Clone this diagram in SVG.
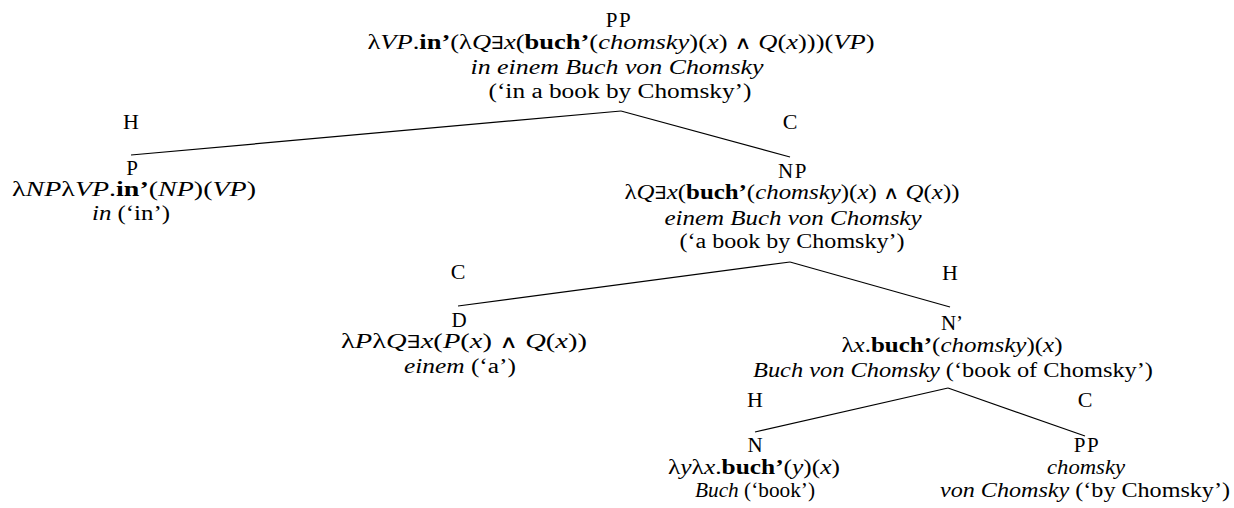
<svg xmlns="http://www.w3.org/2000/svg" width="1234" height="508" viewBox="0 0 1234 508">
<style>
.t{font-family:"Liberation Serif","DejaVu Serif",serif;font-size:20px;fill:#000;text-anchor:middle}
.i{font-style:italic}
.b{font-weight:bold}
.m{font-family:"DejaVu Serif",serif;font-size:18px;font-weight:normal;font-style:normal}
.lab{font-size:22px}
.c{font-size:21px}
.cat{letter-spacing:1.5px}
.e{stroke:#000;stroke-width:1.2;fill:none}
</style>
<rect width="1234" height="508" fill="#fff"/>
<g id="connectors">
<line class="e" x1="621" y1="111" x2="131" y2="155"/>
<line class="e" x1="621" y1="111" x2="790" y2="157"/>
<line class="e" x1="790" y1="262" x2="458" y2="306"/>
<line class="e" x1="790" y1="262" x2="950" y2="307"/>
<line class="e" x1="948" y1="388" x2="755" y2="432"/>
<line class="e" x1="948" y1="388" x2="1085" y2="436"/>
<text class="t lab" x="131" y="129">H</text>
<text class="t lab" x="790" y="129">C</text>
<text class="t lab" x="458" y="279">C</text>
<text class="t lab" x="950" y="280">H</text>
<text class="t lab" x="755" y="407">H</text>
<text class="t lab" x="1085" y="407">C</text>
</g>
<g id="node-pp-top">
<text class="t c cat" x="619" y="27">PP</text>
<text class="t" x="621" y="49" textLength="507" lengthAdjust="spacingAndGlyphs">λ<tspan class="i">VP</tspan>.<tspan class="b">in’</tspan>(λ<tspan class="i">Q</tspan><tspan class="m">∃</tspan><tspan class="i">x</tspan>(<tspan class="b">buch’</tspan>(<tspan class="i">chomsky</tspan>)(<tspan class="i">x</tspan>) <tspan class="m">∧</tspan> <tspan class="i">Q</tspan>(<tspan class="i">x</tspan>)))(<tspan class="i">VP</tspan>)</text>
<text class="t i" x="617" y="74" textLength="293" lengthAdjust="spacingAndGlyphs">in einem Buch von Chomsky</text>
<text class="t" x="620" y="98" textLength="263" lengthAdjust="spacingAndGlyphs">(‘in a book by Chomsky’)</text>
</g>
<g id="node-p">
<text class="t c" x="132" y="175">P</text>
<text class="t" x="134" y="196" textLength="244" lengthAdjust="spacingAndGlyphs">λ<tspan class="i">NP</tspan>λ<tspan class="i">VP</tspan>.<tspan class="b">in’</tspan>(<tspan class="i">NP</tspan>)(<tspan class="i">VP</tspan>)</text>
<text class="t" x="131" y="220" textLength="78" lengthAdjust="spacingAndGlyphs"><tspan class="i">in</tspan> (‘in’)</text>
</g>
<g id="node-np">
<text class="t c cat" x="793" y="178">NP</text>
<text class="t" x="792" y="199" textLength="335" lengthAdjust="spacingAndGlyphs">λ<tspan class="i">Q</tspan><tspan class="m">∃</tspan><tspan class="i">x</tspan>(<tspan class="b">buch’</tspan>(<tspan class="i">chomsky</tspan>)(<tspan class="i">x</tspan>) <tspan class="m">∧</tspan> <tspan class="i">Q</tspan>(<tspan class="i">x</tspan>))</text>
<text class="t i" x="793" y="225" textLength="257" lengthAdjust="spacingAndGlyphs">einem Buch von Chomsky</text>
<text class="t" x="792" y="248" textLength="225" lengthAdjust="spacingAndGlyphs">(‘a book by Chomsky’)</text>
</g>
<g id="node-d">
<text class="t c" x="459" y="327">D</text>
<text class="t" x="464" y="348" textLength="246" lengthAdjust="spacingAndGlyphs">λ<tspan class="i">P</tspan>λ<tspan class="i">Q</tspan><tspan class="m">∃</tspan><tspan class="i">x</tspan>(<tspan class="i">P</tspan>(<tspan class="i">x</tspan>) <tspan class="m">∧</tspan> <tspan class="i">Q</tspan>(<tspan class="i">x</tspan>))</text>
<text class="t" x="460" y="373" textLength="112" lengthAdjust="spacingAndGlyphs"><tspan class="i">einem</tspan> (‘a’)</text>
</g>
<g id="node-nbar">
<text class="t c" x="952" y="330">N’</text>
<text class="t" x="952" y="352" textLength="221" lengthAdjust="spacingAndGlyphs">λ<tspan class="i">x</tspan>.<tspan class="b">buch’</tspan>(<tspan class="i">chomsky</tspan>)(<tspan class="i">x</tspan>)</text>
<text class="t" x="953" y="377" textLength="400" lengthAdjust="spacingAndGlyphs"><tspan class="i">Buch von Chomsky</tspan> (‘book of Chomsky’)</text>
</g>
<g id="node-n">
<text class="t c" x="755" y="452">N</text>
<text class="t" x="754" y="474" textLength="172" lengthAdjust="spacingAndGlyphs">λ<tspan class="i">y</tspan>λ<tspan class="i">x</tspan>.<tspan class="b">buch’</tspan>(<tspan class="i">y</tspan>)(<tspan class="i">x</tspan>)</text>
<text class="t" x="755" y="497" textLength="120" lengthAdjust="spacingAndGlyphs"><tspan class="i">Buch</tspan> (‘book’)</text>
</g>
<g id="node-pp-bottom">
<text class="t c cat" x="1087" y="452">PP</text>
<text class="t i" x="1086" y="474" textLength="78" lengthAdjust="spacingAndGlyphs">chomsky</text>
<text class="t" x="1085" y="497" textLength="290" lengthAdjust="spacingAndGlyphs"><tspan class="i">von Chomsky</tspan> (‘by Chomsky’)</text>
</g>
</svg>
